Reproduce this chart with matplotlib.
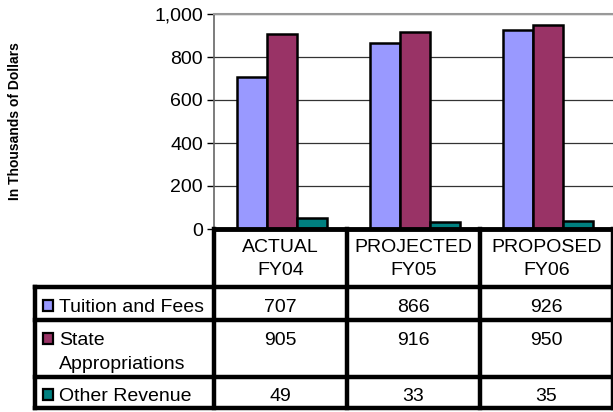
import matplotlib.pyplot as plt
from matplotlib.patches import Rectangle

plt.rcParams['font.family'] = ['Liberation Sans', 'DejaVu Sans']

periods = ["ACTUAL\nFY04", "PROJECTED\nFY05", "PROPOSED\nFY06"]
series = ["Tuition and Fees", "State\nAppropriations", "Other Revenue"]
tuition = [707, 866, 926]
state = [905, 916, 950]
other = [49, 33, 35]
colors = ["#9999FF", "#993366", "#008080"]

W, H = 613, 412
fs = 14
fig = plt.figure(figsize=(W / 100, H / 100), dpi=100)

# plot area in pixel terms
px0, px1, py0, py1 = 214, 613, 14, 229
ax = fig.add_axes([px0 / W, 1 - py1 / H, (px1 - px0) / W, (py1 - py0) / H])

values = [tuition, state, other]
bw = 0.225
for i, (vals, c) in enumerate(zip(values, colors)):
    xs = [k + (i - 1) * bw + 0.01 for k in range(len(vals))]
    ax.bar(xs, vals, width=bw, color=c, edgecolor="black", linewidth=1.8, zorder=3)

ax.set_xlim(-0.5, 2.5)
ax.set_ylim(0, 1000)
ax.set_yticks(range(0, 1001, 200))
ax.set_yticklabels(["{:,}".format(v) for v in range(0, 1001, 200)], fontsize=fs)
ax.set_xticks([])
ax.grid(axis="y", color="#333333", linewidth=0.9, zorder=0)
ax.tick_params(axis="y", length=5, width=1, pad=3)
ax.spines["right"].set_visible(False)
ax.spines["top"].set_color("#999999")
ax.spines["top"].set_linewidth(1.5)
ax.spines["left"].set_color("#666666")
ax.spines["left"].set_linewidth(1.2)
ax.spines["bottom"].set_linewidth(3.5)
ax.spines["bottom"].set_zorder(5)

fig.text(15 / W, 1 - 121 / H, "In Thousands of Dollars", rotation=90,
         ha="center", va="center", fontsize=10, fontweight="bold")

# data table below the plot
tab = fig.add_axes([0, 0, 1, 1])
tab.set_xlim(0, W)
tab.set_ylim(H, 0)
tab.axis("off")

col_edges = [px0, 347, 480, 613]
row_edges = [287, 320, 377, 408]
lw = 3.2
kw = dict(color="black", lw=lw, solid_capstyle="projecting")
for x in col_edges:
    tab.plot([x, x], [py1, row_edges[-1]], **kw)
tab.plot([35, 35], [row_edges[0], row_edges[-1]], **kw)
for y in row_edges:
    tab.plot([35, W], [y, y], **kw)

# header cells
for j, p in enumerate(periods):
    cx = (col_edges[j] + col_edges[j + 1]) / 2
    for n, line in enumerate(p.split("\n")):
        tab.text(cx, 252 + 23 * n, line, ha="center", va="baseline", fontsize=fs)

# series rows
baselines = [312, 345, 401]
for i, (name, vals, c) in enumerate(zip(series, values, colors)):
    by = baselines[i]
    tab.add_patch(Rectangle((43, by - 12), 10, 11, facecolor=c, edgecolor="black", lw=1.6))
    for n, line in enumerate(name.split("\n")):
        tab.text(59, by + 24 * n, line, ha="left", va="baseline", fontsize=fs)
    for j, v in enumerate(vals):
        cx = (col_edges[j] + col_edges[j + 1]) / 2
        tab.text(cx, by, str(v), ha="center", va="baseline", fontsize=fs)

fig.savefig("out.png", dpi=100)
